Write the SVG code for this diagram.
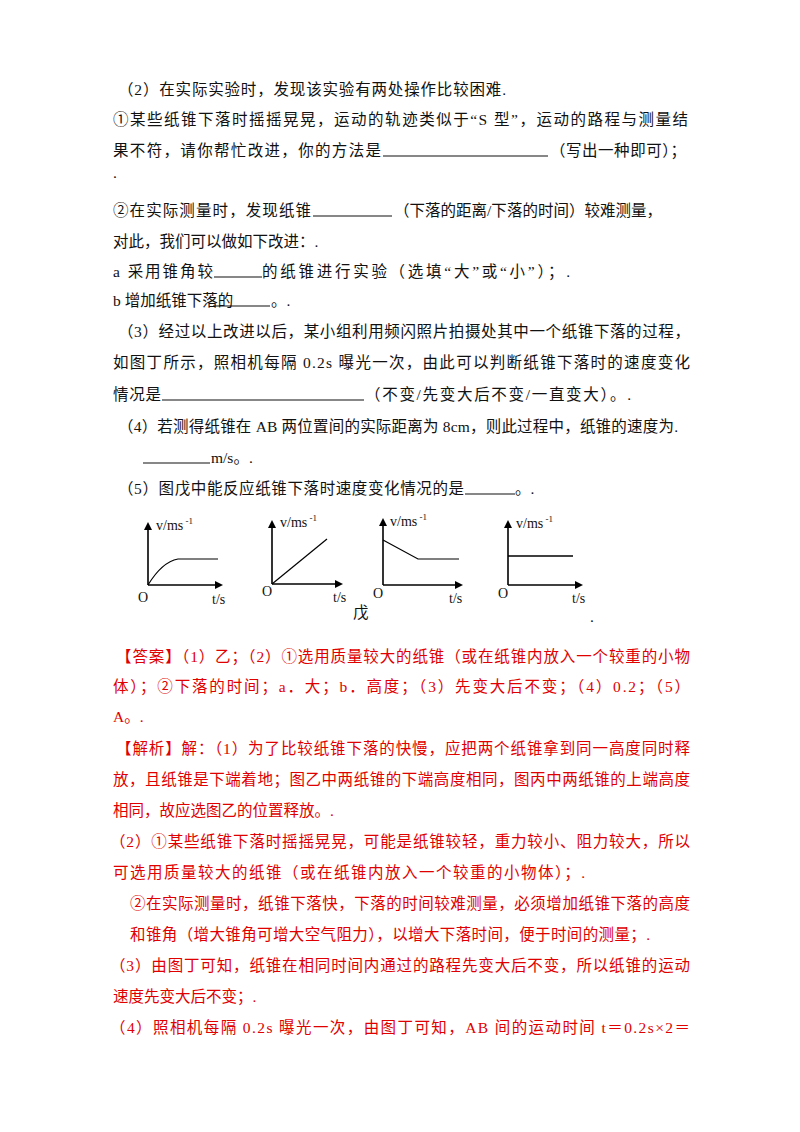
<svg xmlns="http://www.w3.org/2000/svg" width="800" height="1132" viewBox="0 0 800 1132">
<style>
text{font-family:"Liberation Serif","Noto Sans CJK SC",serif;font-size:15.5px;fill:#111}
.r{fill:#e00000}
.u{stroke:#111;stroke-width:1.2}
.ax{stroke:#000;stroke-width:1.6;fill:none}
.g{font-family:"Liberation Serif",serif;font-size:14px}
.s{font-size:9px}
</style>
<defs><marker id="a" markerWidth="8" markerHeight="8" refX="6" refY="4" orient="auto" markerUnits="userSpaceOnUse"><path d="M0,0 L8,4 L0,8z" fill="#000"/></marker></defs>
<rect width="800" height="1132" fill="#fff"/>
<text x="118" y="95" textLength="388">（2）在实际实验时，发现该实验有两处操作比较困难.</text>
<text x="113" y="125" textLength="575">①某些纸锥下落时摇摇晃晃，运动的轨迹类似于“S 型”，运动的路程与测量结</text>
<text x="113" y="156" textLength="268">果不符，请你帮忙改进，你的方法是</text>
<line class="u" x1="383" y1="156" x2="548" y2="156"/>
<text x="550" y="156" textLength="136">（写出一种即可）；</text>
<text x="113" y="178" font-size="8">.</text>
<text x="113" y="216" textLength="198">②在实际测量时，发现纸锥</text>
<line class="u" x1="313" y1="216" x2="392" y2="216"/>
<text x="394" y="216" textLength="268">（下落的距离/下落的时间）较难测量，</text>
<text x="113" y="247">对此，我们可以做如下改进：.</text>
<text x="113" y="277" textLength="100">a 采用锥角较</text>
<line class="u" x1="214" y1="277" x2="262" y2="277"/>
<text x="262" y="277" textLength="308">的纸锥进行实验（选填“大”或“小”）；.</text>
<text x="113" y="306">b 增加纸锥下落的</text>
<line class="u" x1="213" y1="306" x2="270" y2="306"/>
<text x="271" y="306">。.</text>
<text x="118" y="337" textLength="572">（3）经过以上改进以后，某小组利用频闪照片拍摄处其中一个纸锥下落的过程，</text>
<text x="113" y="368" textLength="577">如图丁所示，照相机每隔 0.2s 曝光一次，由此可以判断纸锥下落时的速度变化</text>
<text x="113" y="400" textLength="48">情况是</text>
<line class="u" x1="162" y1="400" x2="364" y2="400"/>
<text x="365" y="400" textLength="266">（不变/先变大后不变/一直变大）。.</text>
<text x="118" y="432" textLength="560">（4）若测得纸锥在 AB 两位置间的实际距离为 8cm，则此过程中，纸锥的速度为.</text>
<line class="u" x1="143" y1="463" x2="210" y2="463"/>
<text x="211" y="463">m/s。.</text>
<text x="118" y="494" textLength="346">（5）图戊中能反应纸锥下落时速度变化情况的是</text>
<line class="u" x1="465" y1="494" x2="515" y2="494"/>
<text x="515" y="494">。.</text>
<g id="g1">
<path class="ax" d="M148,585 V524" marker-end="url(#a)"/><path class="ax" d="M148,585 H221" marker-end="url(#a)"/>
<path d="M148,585 Q162,562 178,559 H218" stroke="#000" stroke-width="1.2" fill="none"/>
<text class="g" x="156" y="530">v/ms<tspan class="s" dy="-6"> -1</tspan></text>
<text class="g" x="138" y="602">O</text><text class="g" x="212" y="604">t/s</text>
</g>
<g id="g2">
<path class="ax" d="M272,584 V522" marker-end="url(#a)"/><path class="ax" d="M272,584 H341" marker-end="url(#a)"/>
<path d="M272,584 L327,539" stroke="#000" stroke-width="1.2"/>
<text class="g" x="280" y="527">v/ms<tspan class="s" dy="-6"> -1</tspan></text>
<text class="g" x="262" y="596">O</text><text class="g" x="333" y="602">t/s</text>
</g>
<g id="g3">
<path class="ax" d="M383,585 V520" marker-end="url(#a)"/><path class="ax" d="M383,585 H461" marker-end="url(#a)"/>
<path d="M383,540 L418,559 H459" stroke="#000" stroke-width="1.2" fill="none"/>
<text class="g" x="390" y="526">v/ms<tspan class="s" dy="-6"> -1</tspan></text>
<text class="g" x="373" y="598">O</text><text class="g" x="449" y="603">t/s</text>
</g>
<g id="g4">
<path class="ax" d="M508,585 V522" marker-end="url(#a)"/><path class="ax" d="M508,585 H581" marker-end="url(#a)"/>
<path d="M508,556 H573" stroke="#000" stroke-width="1.5"/>
<text class="g" x="516" y="528">v/ms<tspan class="s" dy="-6"> -1</tspan></text>
<text class="g" x="498" y="598">O</text><text class="g" x="572" y="603">t/s</text>
</g>
<text x="353" y="618" font-size="13">戊</text>
<text x="590" y="622" font-size="8">.</text>
<text class="r" x="116" y="662" textLength="574">【答案】（1）乙；（2）①选用质量较大的纸锥（或在纸锥内放入一个较重的小物</text>
<text class="r" x="113" y="692" textLength="577">体）；②下落的时间；a．大；b．高度；（3）先变大后不变；（4）0.2；（5）</text>
<text class="r" x="113" y="722">A。.</text>
<text class="r" x="116" y="754" textLength="574">【解析】解：（1）为了比较纸锥下落的快慢，应把两个纸锥拿到同一高度同时释</text>
<text class="r" x="113" y="785" textLength="577">放，且纸锥是下端着地；图乙中两纸锥的下端高度相同，图丙中两纸锥的上端高度</text>
<text class="r" x="113" y="816">相同，故应选图乙的位置释放。.</text>
<text class="r" x="110" y="847" textLength="580">（2）①某些纸锥下落时摇摇晃晃，可能是纸锥较轻，重力较小、阻力较大，所以</text>
<text class="r" x="113" y="878" textLength="472">可选用质量较大的纸锥（或在纸锥内放入一个较重的小物体）；.</text>
<text class="r" x="130" y="909" textLength="560">②在实际测量时，纸锥下落快，下落的时间较难测量，必须增加纸锥下落的高度</text>
<text class="r" x="130" y="940" textLength="520">和锥角（增大锥角可增大空气阻力），以增大下落时间，便于时间的测量；.</text>
<text class="r" x="110" y="971" textLength="580">（3）由图丁可知，纸锥在相同时间内通过的路程先变大后不变，所以纸锥的运动</text>
<text class="r" x="113" y="1002">速度先变大后不变；.</text>
<text class="r" x="110" y="1033" textLength="580">（4）照相机每隔 0.2s 曝光一次，由图丁可知，AB 间的运动时间 t＝0.2s×2＝</text>
</svg>
